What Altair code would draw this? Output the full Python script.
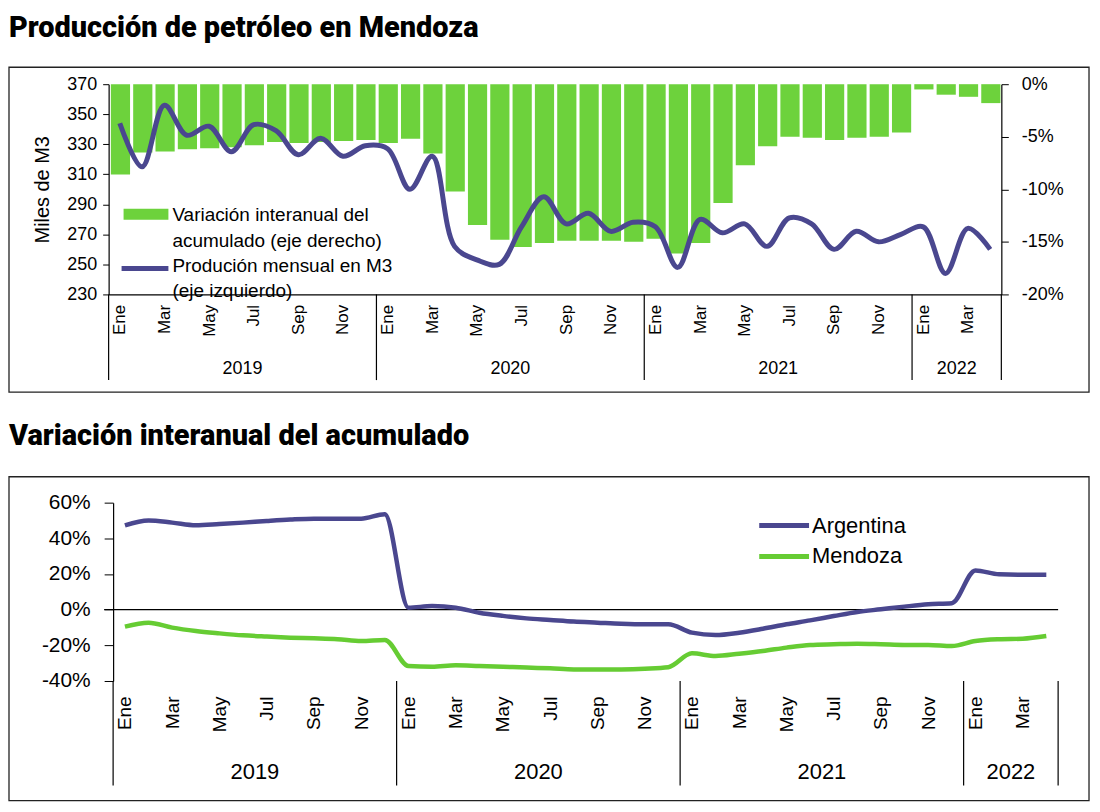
import altair as alt
import pandas as pd

# ---------------- data ----------------
MONTHS = ["Ene", "Feb", "Mar", "Abr", "May", "Jun", "Jul", "Ago", "Sep", "Oct", "Nov", "Dic"]
YEARS = ["2019", "2020", "2021", "2022"]
YEAR_MONTHS = [12, 12, 12, 4]

# Producción mensual (miles de m3) - eje izquierdo
PROD = [344, 315, 356, 336, 342, 325, 343, 339, 323, 334, 322, 329,
        327, 300, 322, 262, 253, 250, 275, 295, 277, 284, 272, 278,
        275, 248, 280, 271, 277, 262, 281, 277, 260, 272, 265, 270,
        275, 244, 274, 260]
# Variación interanual del acumulado (%) - eje derecho
VAR = [-8.6, -6.5, -6.4, -6.2, -6.1, -6.0, -5.8, -5.5, -5.6, -5.5, -5.4, -5.3,
       -5.6, -5.2, -6.6, -10.2, -13.4, -14.8, -15.5, -15.1, -14.9, -14.9, -14.9, -15.0,
       -14.7, -16.1, -15.1, -11.3, -7.7, -5.9, -5.0, -5.1, -5.3, -5.1, -5.0, -4.6,
       -0.5, -1.0, -1.2, -1.8]
# Variación interanual del acumulado (%)
ARG = [47.3, 50.0, 48.8, 47.3, 48.0, 48.8, 49.7, 50.5, 51.0, 51.0, 51.0, 53.5,
       1.1, 2.0, 1.1, -1.7, -3.5, -4.9, -5.8, -6.7, -7.3, -7.9, -8.2, -8.2,
       -12.9, -14.2, -12.9, -10.7, -8.2, -6.0, -3.6, -1.3, 0.2, 1.7, 3.0, 3.6,
       22.0, 19.8, 19.6, 19.6]
MZA = [-9.5, -7.3, -10.1, -12.0, -13.3, -14.4, -15.1, -15.7, -16.1, -16.6, -17.6, -17.0,
       -31.6, -32.0, -31.2, -31.6, -32.0, -32.5, -32.9, -33.5, -33.6, -33.5, -33.1, -32.3,
       -24.5, -26.0, -24.7, -23.2, -21.3, -19.8, -19.4, -19.1, -19.4, -19.8, -19.8, -20.4,
       -17.6, -16.6, -16.3, -14.8]

TITLE1 = "Producción de petróleo en Mendoza"
TITLE2 = "Variación interanual del acumulado"
LEG_BAR = ["Variación interanual del", "acumulado (eje derecho)"]
LEG_LINE = ["Produción mensual en M3", "(eje izquierdo)"]
SERIES = ["Argentina", "Mendoza"]

# ---------------- styles ----------------
BLUE = "#4a478f"
GREEN = "#6dd23c"
GREEN2 = "#66cc33"
FONT = "Liberation Sans"
TFONT = "Roboto"

n = len(PROD)
df = pd.DataFrame({"i": list(range(n)), "prod": PROD, "var": VAR, "arg": ARG, "mza": MZA})
df["pos"] = df["i"] + 0.5
df["b1"] = df["i"] + 0.1
df["b2"] = df["i"] + 0.96
df["zero"] = 0

edges = [0]
for m in YEAR_MONTHS:
    edges.append(edges[-1] + m)
div_df = pd.DataFrame({"b": edges})
yr_df = pd.DataFrame({"year": YEARS,
                      "mid": [(edges[k] + edges[k + 1]) / 2 for k in range(len(YEARS))]})

tick_vals = [i + 0.5 for i in range(0, n, 2)]
label_expr = "[" + ",".join("'%s'" % m for m in MONTHS) + "][floor(datum.value) % 12]"

one = alt.Data(values=[{}])


def text_at(txt, x, y, size, font=FONT, weight="normal", align="left", baseline="middle"):
    return alt.Chart(one).mark_text(text=txt, fontSize=size, font=font, fontWeight=weight,
                                    align=align, baseline=baseline, color="black").encode(
        x=alt.value(x), y=alt.value(y))


def frame(x1, x2, y1, y2):
    return alt.Chart(one).mark_rect(fillOpacity=0, stroke="#222222", strokeWidth=1.3).encode(
        x=alt.value(x1), x2=alt.value(x2), y=alt.value(y1), y2=alt.value(y2))


# ---------------- top chart ----------------
W1, H1 = 896, 211
xs1 = alt.Scale(domain=[0, n], nice=False, zero=False)
xax1 = alt.Axis(values=tick_vals, labelExpr=label_expr, labelAngle=-90, tickSize=0,
                labelPadding=10, labelFontSize=17, grid=False, title=None,
                domainColor="black", domainWidth=1.2, labelFont=FONT, labelColor="black")

bars = alt.Chart(df).mark_bar(color=GREEN).encode(
    x=alt.X("b1:Q", scale=xs1, axis=xax1),
    x2="b2:Q",
    y=alt.Y("var:Q", scale=alt.Scale(domain=[-20, 0], nice=False, zero=False),
            axis=alt.Axis(orient="right", values=[-20, -15, -10, -5, 0],
                          labelExpr="datum.value + '%'", tickSize=7, labelPadding=13,
                          labelFontSize=18, grid=False, title=None, domainColor="black",
                          tickColor="black", domainWidth=1.2, labelFont=FONT)),
    y2="zero:Q",
)

line = alt.Chart(df).mark_line(color=BLUE, strokeWidth=5, interpolate="catmull-rom").encode(
    x=alt.X("pos:Q", scale=xs1, axis=xax1),
    y=alt.Y("prod:Q", scale=alt.Scale(domain=[230, 370], nice=False, zero=False),
            axis=alt.Axis(orient="left", values=[230, 250, 270, 290, 310, 330, 350, 370],
                          tickSize=6, labelPadding=6, labelFontSize=18, grid=False,
                          title="Miles de M3", titleFontSize=20, titleFontWeight="normal",
                          titlePadding=14, domainColor="black", tickColor="black",
                          domainWidth=1.2, labelFont=FONT, titleFont=FONT)),
)

div1 = alt.Chart(div_df).mark_rule(color="black", strokeWidth=1.2).encode(
    x=alt.X("b:Q", scale=xs1, axis=xax1), y=alt.value(H1), y2=alt.value(297))
yr1 = alt.Chart(yr_df).mark_text(fontSize=18, font=FONT, color="black").encode(
    x=alt.X("mid:Q", scale=xs1, axis=xax1), y=alt.value(286), text="year:N")

leg1 = [
    alt.Chart(one).mark_rect(color=GREEN).encode(
        x=alt.value(15), x2=alt.value(60), y=alt.value(125), y2=alt.value(136)),
    alt.Chart(one).mark_rule(color=BLUE, strokeWidth=5).encode(
        x=alt.value(13), x2=alt.value(60), y=alt.value(185)),
    text_at(LEG_BAR[0], 64, 131, 19),
    text_at(LEG_BAR[1], 64, 157, 19),
    text_at(LEG_LINE[0], 64, 183, 19),
    text_at(LEG_LINE[1], 64, 208, 19),
]

top = alt.layer(
    frame(-100, 984, -17, 309),
    text_at(TITLE1, -100, -47, 29, font=TFONT, weight=900, baseline="alphabetic"),
    bars, line, div1, yr1, *leg1,
).resolve_scale(y="independent").properties(width=W1, height=H1)

# ---------------- bottom chart ----------------
W2, H2 = 953, 179
xs2 = alt.Scale(domain=[-0.19, n], nice=False, zero=False)
ys2 = alt.Scale(domain=[-40, 60], nice=False, zero=False)
xax2 = alt.Axis(values=tick_vals, labelExpr=label_expr, labelAngle=-90, tickSize=0,
                domain=False, labelPadding=15, labelFontSize=19, grid=False,
                title=None, labelFont=FONT, labelColor="black")
yax2 = alt.Axis(values=[-40, -20, 0, 20, 40, 60], labelExpr="datum.value + '%'",
                tickSize=9, labelPadding=14, labelFontSize=21, offset=-4.5,
                grid=False, title=None, domainColor="black", tickColor="black",
                domainWidth=1.2, labelFont=FONT, labelColor="black")

zero_rule = alt.Chart(alt.Data(values=[{"z": 0}])).mark_rule(color="black", strokeWidth=1.2).encode(
    x=alt.value(-4.5), x2=alt.value(W2), y=alt.Y("z:Q", scale=ys2, axis=yax2))

arg_line = alt.Chart(df).mark_line(color=BLUE, strokeWidth=4.5, interpolate="monotone").encode(
    x=alt.X("pos:Q", scale=xs2, axis=xax2),
    y=alt.Y("arg:Q", scale=ys2, axis=yax2),
)
mza_line = alt.Chart(df).mark_line(color=GREEN2, strokeWidth=4.5, interpolate="monotone").encode(
    x=alt.X("pos:Q", scale=xs2, axis=xax2),
    y=alt.Y("mza:Q", scale=ys2, axis=yax2),
)

div2 = alt.Chart(div_df).mark_rule(color="black", strokeWidth=1.2).encode(
    x=alt.X("b:Q", scale=xs2, axis=xax2), y=alt.value(H2), y2=alt.value(284))
yr2 = alt.Chart(yr_df).mark_text(fontSize=22, font=FONT, color="black").encode(
    x=alt.X("mid:Q", scale=xs2, axis=xax2), y=alt.value(270), text="year:N")

leg2 = [
    alt.Chart(one).mark_rule(color=BLUE, strokeWidth=5).encode(
        x=alt.value(653), x2=alt.value(703), y=alt.value(23)),
    alt.Chart(one).mark_rule(color=GREEN2, strokeWidth=5).encode(
        x=alt.value(653), x2=alt.value(703), y=alt.value(54)),
    text_at(SERIES[0], 706, 23, 22),
    text_at(SERIES[1], 706, 54, 22),
]

bottom = alt.layer(
    frame(-100, 984, -26, 299),
    text_at(TITLE2, -100, -58, 29, font=TFONT, weight=900, baseline="alphabetic"),
    zero_rule, mza_line, arg_line, div2, yr2, *leg2,
).properties(width=W2, height=H2)

chart = alt.vconcat(top, bottom, spacing=29).properties(
    padding={"left": 0, "top": 5, "right": 2, "bottom": 2}
).configure_view(strokeWidth=0).configure_axis(
    labelColor="black", titleColor="black"
)

chart.save("out.html", embed_options={"renderer": "svg", "actions": False})
